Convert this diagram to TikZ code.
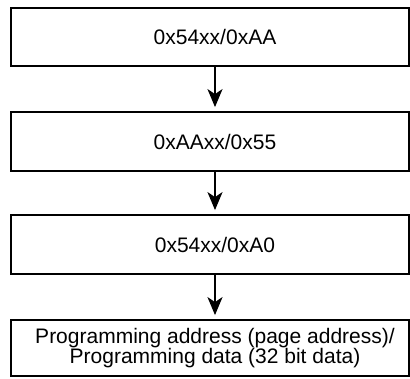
\documentclass[tikz,border=0pt]{standalone}
\usepackage{fontspec}
\setmainfont{Liberation Sans}
\usetikzlibrary{arrows.meta}
\tikzset{
  box/.style={draw=black, line width=1.8pt, fill=white, minimum width=398pt, inner sep=0pt},
  lbl/.style={font=\fontsize{21}{19.5}\selectfont, align=center, inner sep=0pt},
  arr/.style={line width=1.8pt, -{Stealth[length=18pt, width=15pt, inset=5pt]}, shorten >=4pt}
}
\begin{document}
\begin{tikzpicture}[x=1pt,y=1pt]
\useasboundingbox (0,0) rectangle (410,-378);
\node[box, minimum height=58pt] (b1) at (210,-37) {};
\node[box, minimum height=59pt] (b2) at (210,-141.5) {};
\node[box, minimum height=59pt] (b3) at (210,-244.5) {};
\node[box, minimum height=56pt] (b4) at (210,-348) {};
\node[lbl] (t1) at (215,-37) {0x54xx/0xAA};
\node[lbl] (t2) at (215,-141.5) {0xAAxx/0x55};
\node[lbl] (t3) at (215,-244.5) {0x54xx/0xA0};
\node[lbl] (t4) at (215,-348) {Programming address (page address)/\\Programming data (32 bit data)};
\draw[arr] (b1.south -| t1) -- (b2.north -| t2);
\draw[arr] (b2.south -| t2) -- (b3.north -| t3);
\draw[arr] (b3.south -| t3) -- (b4.north -| t4);
\end{tikzpicture}
\end{document}
